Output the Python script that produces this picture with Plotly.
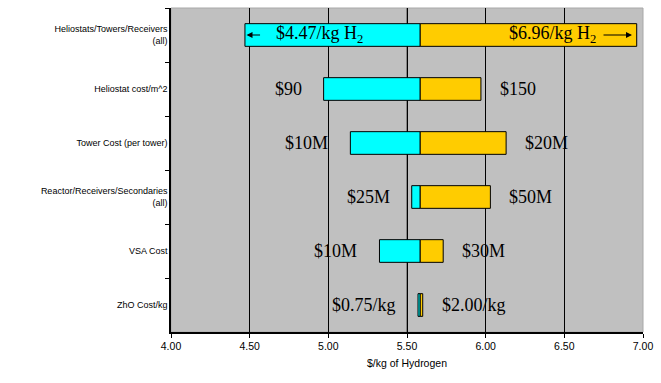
import plotly.graph_objects as go

categories = ["Heliostats/Towers/Receivers<br>(all)", "Heliostat cost/m^2", "Tower Cost (per tower)",
              "Reactor/Receivers/Secondaries<br>(all)", "VSA Cost", "ZhO Cost/kg"]
baseline = 5.584
low_values = [4.47, 4.97, 5.14, 5.53, 5.325, 5.57]
high_values = [6.96, 5.97, 6.13, 6.03, 5.73, 5.60]
low_labels = ["", "$90", "$10M", "$25M", "$10M", "$0.75/kg"]
high_labels = ["", "$150", "$20M", "$50M", "$30M", "$2.00/kg"]
tick_vals = [4.0, 4.5, 5.0, 5.5, 6.0, 6.5, 7.0]
tick_text = ["4.00", "4.50", "5.00", "5.50", "6.00", "6.50", "7.00"]

fig = go.Figure()
fig.add_trace(go.Bar(y=categories, x=[baseline - v for v in low_values], base=low_values,
                     orientation="h", width=0.42, marker=dict(color="#00FFFF", line=dict(color="black", width=1)),
                     showlegend=False, hoverinfo="skip"))
fig.add_trace(go.Bar(y=categories, x=[v - baseline for v in high_values], base=[baseline] * 6,
                     orientation="h", width=0.42, marker=dict(color="#FFCC00", line=dict(color="black", width=1)),
                     showlegend=False, hoverinfo="skip"))

serif = dict(family="Liberation Serif", size=18, color="black")
for cat, lo, hi, ll, hl in zip(categories, low_values, high_values, low_labels, high_labels):
    if ll:
        fig.add_annotation(x=lo, y=cat, text=ll, showarrow=False, xanchor="right", xshift=-20, font=serif)
    if hl:
        fig.add_annotation(x=hi, y=cat, text=hl, showarrow=False, xanchor="left", xshift=17, font=serif)

# top row labels inside the bars
top = categories[0]
fig.add_annotation(x=low_values[0], y=top, text="$4.47/kg H<sub>2</sub>", showarrow=False,
                   xanchor="left", xshift=29, yshift=1, font=serif)
fig.add_annotation(x=high_values[0], y=top, text="$6.96/kg H<sub>2</sub>", showarrow=False,
                   xanchor="right", xshift=-39, yshift=1, font=serif)
fig.add_annotation(x=low_values[0] + 0.01, y=top, ax=low_values[0] + 0.115, ay=top, axref="x", ayref="y",
                   xref="x", yref="y", showarrow=True, arrowhead=2, arrowsize=1, arrowwidth=1.2,
                   arrowcolor="black", text=" ")
fig.add_annotation(x=high_values[0] - 0.03, y=top, ax=high_values[0] - 0.23, ay=top, axref="x", ayref="y",
                   xref="x", yref="y", showarrow=True, arrowhead=2, arrowsize=1, arrowwidth=1.2,
                   arrowcolor="black", text=" ")

fig.add_shape(type="rect", x0=0, x1=1, y0=0, y1=1, xref="paper", yref="paper",
              line=dict(color="#A8A8A8", width=1), layer="below")
fig.add_shape(type="line", x0=5.5, x1=5.5, y0=0, y1=1, yref="paper", xref="x",
              line=dict(color="#707070", width=1.5), layer="below")

fig.update_layout(
    width=661, height=383,
    margin=dict(l=171, r=14, t=8, b=51),
    paper_bgcolor="white", plot_bgcolor="#C0C0C0",
    barmode="overlay",
    font=dict(family="Liberation Sans", color="black"),
    xaxis=dict(range=[4.0, 7.0], tickvals=tick_vals, ticktext=tick_text, showgrid=True,
               gridcolor="black", gridwidth=1, showline=True, linecolor="black", linewidth=1.5,
               ticks="outside", ticklen=4, tickcolor="black", tickfont=dict(size=10.5),
               title=dict(text="$/kg of Hydrogen", font=dict(size=10.5), standoff=8),
               zeroline=False, mirror=False),
    yaxis=dict(autorange="reversed", showgrid=False, showline=True, linecolor="black", linewidth=1.5,
               ticks="outside", tickson="boundaries", ticklen=4, tickcolor="black",
               tickfont=dict(size=9), zeroline=False),
)

fig.write_html("out.html")
